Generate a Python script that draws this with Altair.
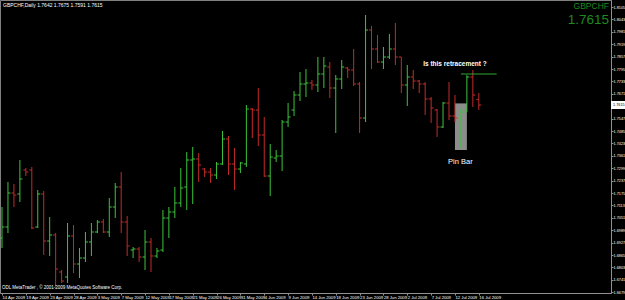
import altair as alt
import pandas as pd

# OHLC values (GBPCHF daily), one bar per trading day, 14 Apr 2009 .. 16 Jul 2009
opens = [1.6950, 1.7005, 1.7175, 1.7170, 1.7290, 1.7290, 1.7005, 1.7170, 1.6935, 1.6965,
         1.6780, 1.6755, 1.6960, 1.6820, 1.6850, 1.6930, 1.6980, 1.7030, 1.6980, 1.7105,
         1.7205, 1.7030, 1.6890, 1.6895, 1.6855, 1.6930, 1.6860, 1.6890, 1.7050, 1.7080,
         1.7125, 1.7205, 1.7340, 1.7345, 1.7295, 1.7280, 1.7265, 1.7320, 1.7445, 1.7320,
         1.7295, 1.7320, 1.7595, 1.7590, 1.7465, 1.7260, 1.7350, 1.7360, 1.7530, 1.7590,
         1.7665, 1.7720, 1.7725, 1.7715, 1.7770, 1.7805, 1.7700, 1.7745, 1.7800, 1.7790,
         1.7720, 1.7550, 1.7990, 1.7895, 1.7830, 1.7855, 1.7895, 1.7855, 1.7715, 1.7755,
         1.7735, 1.7720, 1.7645, 1.7590, 1.7505, 1.7625, 1.7560, 1.7550, 1.7580, 1.7755,
         1.7642]
highs = [1.7105, 1.7230, 1.7220, 1.7340, 1.7300, 1.7305, 1.7190, 1.7185, 1.7055, 1.6975,
         1.6790, 1.7025, 1.7015, 1.6900, 1.6980, 1.7025, 1.7040, 1.7045, 1.7150, 1.7225,
         1.7280, 1.7060, 1.6905, 1.6905, 1.6990, 1.6950, 1.6900, 1.7090, 1.7105, 1.7205,
         1.7300, 1.7380, 1.7405, 1.7375, 1.7300, 1.7300, 1.7330, 1.7485, 1.7460, 1.7400,
         1.7330, 1.7615, 1.7600, 1.7700, 1.7555, 1.7420, 1.7390, 1.7540, 1.7625, 1.7685,
         1.7780, 1.7795, 1.7740, 1.7855, 1.7855, 1.7830, 1.7765, 1.7840, 1.7805, 1.7895,
         1.7730, 1.8065, 1.8010, 1.7965, 1.7905, 1.7970, 1.8025, 1.7855, 1.7815, 1.7790,
         1.7740, 1.7730, 1.7655, 1.7595, 1.7630, 1.7730, 1.7665, 1.7600, 1.7765, 1.7790,
         1.7675]
lows = [1.6900, 1.6975, 1.7105, 1.7130, 1.7260, 1.6995, 1.7000, 1.6865, 1.6860, 1.6705,
        1.6725, 1.6725, 1.6775, 1.6750, 1.6830, 1.6860, 1.6975, 1.6975, 1.6955, 1.7050,
        1.6975, 1.6860, 1.6850, 1.6830, 1.6790, 1.6780, 1.6850, 1.6880, 1.6950, 1.7050,
        1.7105, 1.7090, 1.7120, 1.7230, 1.7255, 1.7225, 1.7245, 1.7315, 1.7265, 1.7190,
        1.7275, 1.7305, 1.7450, 1.7410, 1.7255, 1.7160, 1.7330, 1.7285, 1.7505, 1.7560,
        1.7635, 1.7655, 1.7690, 1.7680, 1.7700, 1.7650, 1.7475, 1.7695, 1.7750, 1.7710,
        1.7475, 1.7530, 1.7795, 1.7825, 1.7795, 1.7845, 1.7815, 1.7675, 1.7610, 1.7695,
        1.7675, 1.7565, 1.7525, 1.7455, 1.7500, 1.7540, 1.7530, 1.7400, 1.7580, 1.7605,
        1.7591]
closes = [1.7005, 1.7175, 1.7165, 1.7245, 1.7280, 1.7000, 1.7170, 1.6935, 1.6965, 1.6795,
          1.6735, 1.6960, 1.6820, 1.6850, 1.6930, 1.6980, 1.7030, 1.6980, 1.7105, 1.7205,
          1.7030, 1.6910, 1.6895, 1.6855, 1.6930, 1.6860, 1.6885, 1.7050, 1.7080, 1.7125,
          1.7200, 1.7340, 1.7345, 1.7315, 1.7280, 1.7265, 1.7320, 1.7445, 1.7320, 1.7295,
          1.7325, 1.7595, 1.7590, 1.7465, 1.7260, 1.7355, 1.7360, 1.7530, 1.7555, 1.7665,
          1.7720, 1.7725, 1.7715, 1.7770, 1.7810, 1.7700, 1.7745, 1.7805, 1.7790, 1.7720,
          1.7550, 1.7990, 1.7895, 1.7830, 1.7855, 1.7895, 1.7855, 1.7715, 1.7755, 1.7735,
          1.7720, 1.7645, 1.7600, 1.7505, 1.7625, 1.7560, 1.7550, 1.7580, 1.7755, 1.7665,
          1.7615]

date_labels = ["14 Apr 2009", "19 Apr 2009", "23 Apr 2009", "28 Apr 2009", "3 May 2009",
               "7 May 2009", "12 May 2009", "17 May 2009", "21 May 2009", "26 May 2009",
               "31 May 2009", "4 Jun 2009", "9 Jun 2009", "14 Jun 2009", "18 Jun 2009",
               "23 Jun 2009", "28 Jun 2009", "2 Jul 2009", "7 Jul 2009", "12 Jul 2009",
               "16 Jul 2009"]
# grid labels of the price scale (the one under the current-price marker is hidden)
price_ticks = [1.8105, 1.8043, 1.7981, 1.7919, 1.7857, 1.7795, 1.7733, 1.7671,
               1.7547, 1.7485, 1.7423, 1.7361, 1.7299, 1.7237, 1.7175, 1.7113, 1.7051,
               1.6989, 1.6927, 1.6865, 1.6803, 1.6741, 1.6679]

FONT = "Liberation Sans"
UP = "#3cc43c"
DOWN = "#c42a2a"

n = len(opens)
df = pd.DataFrame({"i": list(range(n)), "open": opens, "high": highs,
                   "low": lows, "close": closes})
df["dir"] = ["up" if c >= o else "down" for o, c in zip(opens, closes)]
df["il"] = df["i"] - 0.42
df["ir"] = df["i"] + 0.42

xs = alt.Scale(domain=[-0.3356, 102.18], nice=False, zero=False)
ys = alt.Scale(domain=[1.6675, 1.8140], nice=False, zero=False)
color = alt.Color("dir:N", scale=alt.Scale(domain=["up", "down"], range=[UP, DOWN]), legend=None)

label_expr = "[" + ",".join("'%s'" % d for d in date_labels) + "][round(datum.value/4)]"

x_axis = alt.Axis(values=list(range(0, 4 * len(date_labels), 4)), labelExpr=label_expr,
                  labelAlign="left", labelBaseline="top", labelFontSize=4.2, labelFont=FONT,
                  labelColor="white", labelPadding=0, labelFlush=False, labelOverlap=False,
                  labelBound=False, tickSize=2, tickColor="#909090", domainColor="#909090",
                  grid=False, title=None)
y_axis = alt.Axis(orient="right", values=price_ticks, format=".4f", labelFontSize=3.8,
                  labelFont=FONT, labelColor="white", labelPadding=0, tickSize=2,
                  tickColor="#909090", domainColor="#909090", grid=False, title=None,
                  labelOverlap=False, labelFlush=False, labelBound=False)


def X(field):
    return alt.X(field, scale=xs, axis=x_axis)


def Y(field):
    return alt.Y(field, scale=ys, axis=y_axis)


base = alt.Chart(df)

# grey highlight around the pin bar
box = alt.Chart(pd.DataFrame({"a": [76.0], "b": [78.0], "lo": [1.7390], "hi": [1.7623]})).mark_rect(
    color="#8c8c8c").encode(x=X("a:Q"), x2="b:Q", y=Y("lo:Q"), y2="hi:Q")

hl = base.mark_rule(strokeWidth=1).encode(x=X("i:Q"), y=Y("low:Q"), y2="high:Q", color=color)
ot = base.mark_rule(strokeWidth=1).encode(x=X("il:Q"), x2="i:Q", y=Y("open:Q"), color=color)
ct = base.mark_rule(strokeWidth=1).encode(x=X("i:Q"), x2="ir:Q", y=Y("close:Q"), color=color)

# horizontal resistance line
hline = alt.Chart(pd.DataFrame({"a": [77.0], "b": [83.0], "p": [1.7770]})).mark_rule(
    color="#2fa82f", strokeWidth=1).encode(x=X("a:Q"), x2="b:Q", y=Y("p:Q"))

ann = pd.DataFrame({"i": [76.0, 76.9], "p": [1.7820, 1.7330],
                    "t": ["Is this retracement ?", "Pin Bar"]})
t1 = alt.Chart(ann.iloc[[0]]).mark_text(color="white", fontSize=6.5, fontWeight="bold",
                                         font=FONT, align="center", baseline="middle").encode(
    x=X("i:Q"), y=Y("p:Q"), text="t:N")
t2 = alt.Chart(ann.iloc[[1]]).mark_text(color="white", fontSize=7.5, font=FONT,
                                         align="center", baseline="middle").encode(
    x=X("i:Q"), y=Y("p:Q"), text="t:N")

# current price marker on the price axis
last = closes[-1]
pbox = alt.Chart(pd.DataFrame({"lo": [last - 0.0020], "hi": [last + 0.0020]})).mark_rect(
    color="white").encode(x=alt.value(611), x2=alt.value(625), y=Y("lo:Q"), y2="hi:Q")
ptxt = alt.Chart(pd.DataFrame({"p": [last], "t": ["%.4f" % last]})).mark_text(
    color="black", fontSize=3.8, font=FONT, align="left", baseline="middle").encode(
    x=alt.value(613), y=Y("p:Q"), text="t:N")

header = "GBPCHF,Daily  %.4f %.4f %.4f %.4f" % (opens[-1], highs[-1], lows[-1], closes[-1])
hdr = alt.Chart(pd.DataFrame({"t": [header]})).mark_text(
    color="white", fontSize=5, font=FONT, align="left", baseline="middle").encode(
    x=alt.value(3), y=alt.value(5), text="t:N")
sym = alt.Chart(pd.DataFrame({"t": ["GBPCHF"]})).mark_text(
    color="#1f8a1f", fontSize=8.5, font=FONT, align="right", baseline="middle").encode(
    x=alt.value(609), y=alt.value(6), text="t:N")
big = alt.Chart(pd.DataFrame({"t": ["%.4f" % last]})).mark_text(
    color="#1f8a1f", fontSize=13.5, font=FONT, align="right", baseline="middle").encode(
    x=alt.value(609), y=alt.value(20), text="t:N")
copy = alt.Chart(pd.DataFrame({"t": ["ODL MetaTrader , \u00a9 2001-2009 MetaQuotes Software Corp."]})).mark_text(
    color="white", fontSize=4.5, font=FONT, align="left", baseline="middle").encode(
    x=alt.value(2), y=alt.value(288), text="t:N")

chart = alt.layer(box, hl, ot, ct, hline, t1, t2, pbox, ptxt, hdr, sym, big, copy).properties(
    width=611, height=293,
    padding={"left": 0, "top": 0, "right": 14, "bottom": 7},
    autosize=alt.AutoSizeParams(type="none"),
    background="black"
).configure_view(stroke="#808080", strokeWidth=1).configure_axis(labelOverlap=False)

chart.save("out.html", embed_options={"renderer": "svg", "actions": False})
